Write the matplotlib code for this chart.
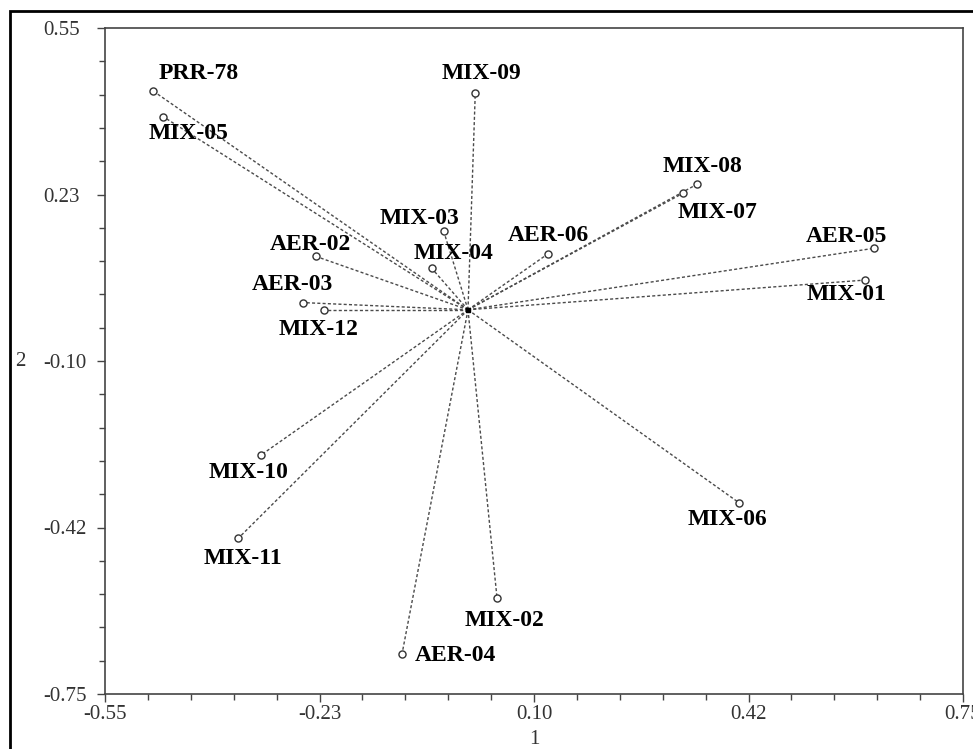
import matplotlib
matplotlib.use("Agg")
import matplotlib.pyplot as plt
from matplotlib.patches import Rectangle

labels = ["PRR-78", "MIX-05", "MIX-09", "MIX-08", "MIX-07", "AER-05", "MIX-01",
          "AER-06", "MIX-03", "MIX-04", "AER-02", "AER-03", "MIX-12", "MIX-10",
          "MIX-11", "MIX-06", "MIX-02", "AER-04"]
dim1 = [-0.477, -0.462, 0.011, 0.347, 0.325, 0.615, 0.602,
        0.121, -0.037, -0.055, -0.230, -0.250, -0.218, -0.313,
        -0.348, 0.411, 0.044, -0.100]
dim2 = [0.427, 0.377, 0.423, 0.245, 0.227, 0.120, 0.058,
        0.109, 0.154, 0.081, 0.104, 0.014, 0.000, -0.283,
        -0.446, -0.377, -0.563, -0.672]
# label offsets (pixels) relative to each point
label_dx = [45, 25, 6, 5, 35, -27, -19, 1, -24, 22, -6, -11, -6, -13, 5, -12, 7, 53]
label_dy = [18, -17, 20, 18, -19, 12, -14, 18, 12, 15, 12, 18, -20, -18, -20, -17, -22, -1]

xticks = [-0.55, -0.225, 0.10, 0.425, 0.75]
xticklabels = ["-0.55", "-0.23", "0.10", "0.42", "0.75"]
yticks = [-0.75, -0.425, -0.10, 0.225, 0.55]
yticklabels = ["-0.75", "-0.42", "-0.10", "0.23", "0.55"]

plt.rcParams['font.family'] = ['Liberation Serif', 'DejaVu Serif']

fig = plt.figure(figsize=(9.73, 7.49), dpi=100)
fig.patch.set_facecolor('white')
ax = fig.add_axes([105/973, 1-694/749, (963-105)/973, (694-28)/749])

for x, y in zip(dim1, dim2):
    ax.plot([0, x], [0, y], linestyle=(0, (2.2, 1.6)), color='#4a4a4a', lw=1.0, zorder=1)
ax.scatter(dim1, dim2, s=26, facecolor='white', edgecolor='#333333', linewidth=1.0, zorder=3)
ax.scatter([0], [0], s=10, marker='s', color='black', zorder=4)

for lab, x, y, dx, dy in zip(labels, dim1, dim2, label_dx, label_dy):
    ax.annotate(lab, (x, y), xytext=(dx, dy), textcoords='offset pixels',
                ha='center', va='center', fontsize=17, fontweight='bold', color='black', zorder=5)

ax.set_xlim(-0.55, 0.75)
ax.set_ylim(-0.75, 0.55)
ax.set_xticks(xticks)
ax.set_xticklabels(xticklabels)
ax.set_yticks(yticks)
ax.set_yticklabels(yticklabels)
ax.set_xticks([-0.55 + 0.065*i for i in range(21) if i % 5], minor=True)
ax.set_yticks([-0.75 + 0.065*i for i in range(21) if i % 5], minor=True)
ax.tick_params(axis='both', which='major', direction='out', length=6, width=1.0,
               color='#444444', labelsize=15, labelcolor='#333333')
ax.tick_params(axis='both', which='minor', direction='out', length=4, width=1.0, color='#444444')
ax.tick_params(axis='x', which='major', pad=2)
# left-align y tick labels so they start at x ~ 43 px
tick_len_px = 6 * 100 / 72
pad_px = 105 - tick_len_px - 43
ax.tick_params(axis='y', which='major', pad=pad_px * 72 / 100)
for t in ax.get_yticklabels():
    t.set_horizontalalignment('left')
for sp in ax.spines.values():
    sp.set_color('#444444')
    sp.set_linewidth(1.2)

fig.text(20/973, 1-361/749, "2", ha='center', va='center', fontsize=15, color='#333333')
fig.text(534/973, 1-740/749, "1", ha='center', va='center', fontsize=15, color='#333333')

fig.patches.append(Rectangle((10/973, -0.05), 1.2, 1-11/749+0.05, transform=fig.transFigure,
                             fill=False, edgecolor='black', linewidth=2.0, figure=fig))

fig.savefig("out.png", dpi=100)
